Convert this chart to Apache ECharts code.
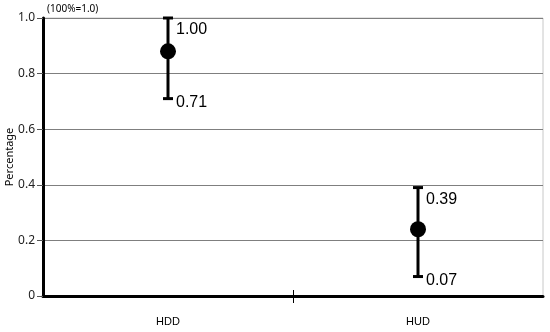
<!DOCTYPE html>
<html>
<head>
<meta charset="utf-8">
<script src="https://cdn.jsdelivr.net/npm/echarts@6/dist/echarts.min.js"></script>
<style>
  html, body { margin: 0; padding: 0; background: #fff; }
  #chart { width: 550px; height: 332px; }
</style>
</head>
<body>
<div id="chart"></div>
<script>
// data
const categories = ['HDD', 'HUD'];
const meanValues = [0.88, 0.24];
const lowValues = [0.71, 0.07];
const highValues = [1.00, 0.39];
const yTicks = [0, 0.2, 0.4, 0.6, 0.8, 1.0];

const chart = echarts.init(document.getElementById('chart'));

const errorData = categories.map((c, i) => [i, lowValues[i], highValues[i]]);

// error bar with caps and value labels (plus the divider tick between categories)
function renderErrorBar(params, api) {
  const x = api.value(0);
  const lo = api.coord([x, api.value(1)]);
  const hi = api.coord([x, api.value(2)]);
  const base = api.coord([x, 0]);
  const band = api.size([1, 0])[0];
  const capW = 5;
  const lineStyle = { stroke: '#000', lineWidth: 3 };
  const children = [
    { type: 'line', shape: { x1: hi[0], y1: hi[1], x2: lo[0], y2: lo[1] }, style: lineStyle },
    { type: 'line', shape: { x1: hi[0] - capW, y1: hi[1], x2: hi[0] + capW, y2: hi[1] }, style: lineStyle },
    { type: 'line', shape: { x1: lo[0] - capW, y1: lo[1], x2: lo[0] + capW, y2: lo[1] }, style: lineStyle },
    {
      type: 'text',
      x: hi[0] + 8, y: hi[1] + 12,
      style: {
        text: api.value(2).toFixed(2), fill: '#000',
        font: '16px "Liberation Sans", Arial', verticalAlign: 'middle', align: 'left',
      },
    },
    {
      type: 'text',
      x: lo[0] + 8, y: lo[1] + 4,
      style: {
        text: api.value(1).toFixed(2), fill: '#000',
        font: '16px "Liberation Sans", Arial', verticalAlign: 'middle', align: 'left',
      },
    },
  ];
  if (params.dataIndex > 0) {
    const bx = Math.round(base[0] - band / 2) + 0.5;
    children.push({
      type: 'line',
      shape: { x1: bx, y1: base[1] - 6, x2: bx, y2: base[1] + 7 },
      style: { stroke: '#000', lineWidth: 1 },
    });
  }
  return { type: 'group', children };
}

chart.setOption({
  animation: false,
  backgroundColor: '#fff',
  grid: {
    left: 43, right: 7, top: 18, bottom: 36, outerBoundsMode: 'none',
    show: true, borderColor: '#c8c8c8', borderWidth: 1,
  },
  graphic: [
    {
      type: 'text', left: 47, top: 4,
      style: { text: '(100%=1.0)', font: '10px "Noto Sans", sans-serif', fill: '#000' },
    },
  ],
  xAxis: {
    type: 'category',
    data: categories,
    boundaryGap: true,
    axisLine: { lineStyle: { color: '#000', width: 3 } },
    axisTick: { show: false },
    axisLabel: {
      color: '#000', fontSize: 11, margin: 20,
      fontFamily: '"Liberation Sans", Arial',
    },
  },
  yAxis: {
    type: 'value',
    min: yTicks[0],
    max: yTicks[yTicks.length - 1],
    interval: 0.2,
    name: 'Percentage',
    nameLocation: 'middle',
    nameGap: 28,
    nameRotate: 90,
    nameMoveOverlap: false,
    nameTextStyle: { color: '#000', fontSize: 11, fontFamily: '"Noto Sans", sans-serif' },
    axisLine: { show: true, lineStyle: { color: '#000', width: 3 } },
    axisTick: { show: true, length: 6, lineStyle: { color: '#555', width: 1 } },
    axisLabel: {
      color: '#222', fontSize: 12, margin: 8,
      fontFamily: '"Noto Sans", sans-serif',
      formatter: (v) => (v === 0 ? '0' : v.toFixed(1)),
    },
    splitLine: { lineStyle: { color: '#7f7f7f', width: 1 } },
  },
  series: [
    {
      type: 'custom',
      renderItem: renderErrorBar,
      data: errorData,
      encode: { x: 0, y: [1, 2] },
      z: 2,
    },
    {
      type: 'scatter',
      data: meanValues,
      symbol: 'circle',
      symbolSize: 16,
      itemStyle: { color: '#000', opacity: 1 },
      z: 3,
    },
  ],
});
</script>
</body>
</html>
